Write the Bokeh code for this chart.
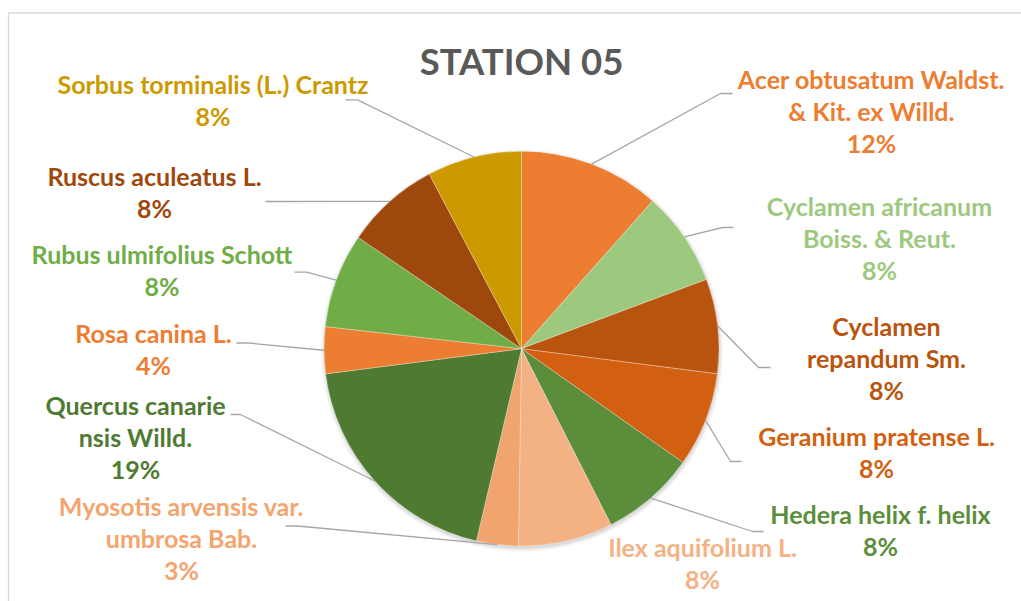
import math
from bokeh.plotting import figure
from bokeh.models import Range1d, ColumnDataSource
from bokeh.embed import file_html
from bokeh.resources import INLINE
from bokeh.core.properties import value

# ---------------- data ----------------
title_text = "STATION 05"
categories = [
    "Acer obtusatum Waldst.\n& Kit. ex Willd.",
    "Cyclamen africanum\nBoiss. & Reut.",
    "Cyclamen\nrepandum Sm.",
    "Geranium pratense L.",
    "Hedera helix f. helix",
    "Ilex aquifolium L.",
    "Myosotis arvensis var.\numbrosa Bab.",
    "Quercus canarie\nnsis Willd.",
    "Rosa canina L.",
    "Rubus ulmifolius Schott",
    "Ruscus aculeatus L.",
    "Sorbus torminalis (L.) Crantz",
]
shares = [11.5, 7.7, 7.7, 7.7, 7.7, 7.7, 3.4, 19.2, 3.8, 7.7, 7.7, 7.7]

# ---------------- styles ----------------
slice_colors = ["#ED7D31", "#9DC97E", "#B9540F", "#D35F10", "#5B8D3A", "#F4B183",
                "#F0A46E", "#4E7A32", "#ED7D31", "#70AD47", "#9E480E", "#CC9A00"]
label_colors = ["#ED7D31", "#9DC97E", "#B9540F", "#D35F10", "#5B8D3A", "#F4B183",
                "#F4A46E", "#4E7A32", "#ED7D31", "#70AD47", "#9E480E", "#CC9A00"]

# ---------------- layout (screen pixels) ----------------
W, H = 1021, 601
CX, CY, R = 521.0, 348.2, 197.5
LINE_GAP = 32
FONT = "Lato"
LABEL_SIZE = 25
TITLE_SIZE = 36.5
BASE_SHIFT = 0.37  # compensation (em) for the renderer's baseline placement
# label anchor: (centre x, first baseline y)
label_pos = [(871, 87.3), (879, 215), (886, 335), (876, 445), (880, 522.7), (702, 556),
             (181, 515), (135, 414), (153, 341.7), (161.5, 262.7), (154, 185), (212.5, 92.7)]
# leader line: (outer end x, elbow x, y) or None
leaders = [(732, 720, 93), (733, 722, 227), (770, 758, 367), (741, 730, 461),
           (763, 752, 531), None, (285, 297, 525.5), (230, 240, 414),
           (236, 248, 342.5), (294, 306, 271.7), (265, 277, 201), (345, 357, 99.3)]


def Y(v):
    return -v


p = figure(width=W, height=H, x_range=Range1d(0, W), y_range=Range1d(-H, 0),
           output_backend="svg", toolbar_location=None, min_border=0)
p.axis.visible = False
p.grid.visible = False
p.outline_line_color = None
p.background_fill_color = "white"
p.border_fill_color = "white"

# chart border (top and left visible)
p.line(x=[8, 8, W], y=[Y(H), Y(12.5), Y(12.5)], line_color="#D9D9D9", line_width=1.3)

# soft shadow
for i, a in enumerate([0.05, 0.04, 0.03, 0.02]):
    p.circle(x=[CX + 0.5], y=[Y(CY + 2.0)], radius=R + 0.5 + i * 1.2,
             fill_color="black", fill_alpha=a, line_color=None)

total = sum(shares)
starts, ends, mids = [], [], []
cum = 0.0
for v in shares:
    a0 = math.pi / 2 - 2 * math.pi * cum / total
    a1 = math.pi / 2 - 2 * math.pi * (cum + v) / total
    starts.append(a0)
    ends.append(a1)
    mids.append((a0 + a1) / 2)
    cum += v

src = ColumnDataSource(dict(start=starts, end=ends, color=slice_colors))
p.wedge(x=CX, y=Y(CY), radius=R, start_angle="start", end_angle="end", direction="clock",
        fill_color="color", line_color="white", line_width=0.6, line_alpha=0.5, source=src)

# leader lines
xs, ys = [], []
for ld, m in zip(leaders, mids):
    if ld is None:
        continue
    xe, xb, yy = ld
    px = CX + R * math.cos(m)
    py = Y(CY) + R * math.sin(m)
    xs.append([xe, xb, px])
    ys.append([Y(yy), Y(yy), py])
p.multi_line(xs=xs, ys=ys, line_color="#A6A6A6", line_width=1.3)

# labels
tx, ty, tt, tc = [], [], [], []
for name, v, (lx, ly), col in zip(categories, shares, label_pos, label_colors):
    lines = name.split("\n") + [f"{round(100 * v / total)}%"]
    for k, s in enumerate(lines):
        tx.append(lx)
        ty.append(Y(ly + k * LINE_GAP - BASE_SHIFT * LABEL_SIZE))
        tt.append(s)
        tc.append(col)
p.text(x="x", y="y", text="t", text_color="c",
       source=ColumnDataSource(dict(x=tx, y=ty, t=tt, c=tc)),
       text_font=value(FONT), text_font_style="bold", text_font_size=f"{LABEL_SIZE}px",
       text_align="center", text_baseline="alphabetic")

# title
p.text(x=[521], y=[Y(74 - BASE_SHIFT * TITLE_SIZE)], text=[title_text], text_font=value(FONT),
       text_font_style="bold", text_font_size=f"{TITLE_SIZE}px", text_color="#595959",
       text_align="center", text_baseline="alphabetic")

open("out.html", "w").write(file_html(p, INLINE))
